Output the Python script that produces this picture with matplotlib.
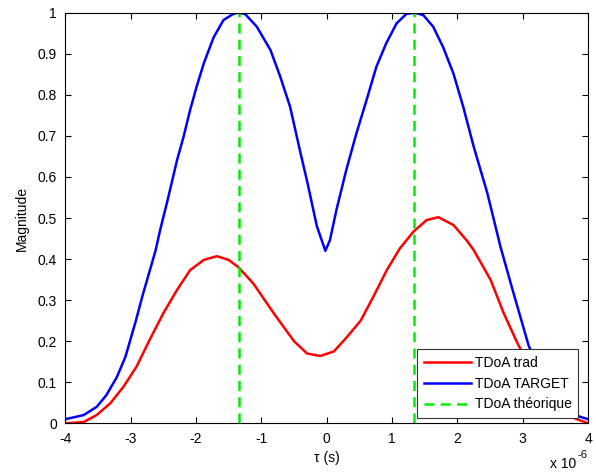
import matplotlib.pyplot as plt

plt.rcParams['font.family'] = ['Liberation Sans', 'DejaVu Sans']
plt.rcParams['axes.unicode_minus'] = False

# delay in microseconds (axis shows x 10^-6)
tau_trad = [-4.0, -3.72, -3.52, -3.31, -3.11, -2.91, -2.71, -2.50, -2.29, -2.09,
            -1.88, -1.68, -1.50, -1.35, -1.12, -0.81, -0.5, -0.3, -0.1, 0.11,
            0.31, 0.52, 0.72, 0.92, 1.12, 1.33, 1.53, 1.71, 1.94, 2.14,
            2.25, 2.51, 2.71, 2.92, 3.2, 3.5, 3.75, 4.0]
mag_trad = [0.0, 0.003, 0.02, 0.049, 0.089, 0.138, 0.203, 0.268, 0.325, 0.373,
            0.398, 0.407, 0.398, 0.38, 0.34, 0.268, 0.20, 0.17, 0.164, 0.175,
            0.21, 0.25, 0.31, 0.373, 0.426, 0.467, 0.495, 0.502, 0.483, 0.446,
            0.422, 0.349, 0.268, 0.195, 0.11, 0.05, 0.015, 0.0]

tau_target = [-4.0, -3.72, -3.52, -3.37, -3.21, -3.08, -2.92, -2.82, -2.72, -2.62,
              -2.55, -2.44, -2.29, -2.19, -2.09, -1.99, -1.88, -1.73, -1.58, -1.43,
              -1.36, -1.25, -1.07, -0.86, -0.71, -0.56, -0.40, -0.3, -0.15, -0.02,
              0.05, 0.15, 0.30, 0.455, 0.61, 0.76, 0.91, 1.07, 1.22, 1.35,
              1.48, 1.63, 1.78, 1.94, 2.09, 2.25, 2.46, 2.66, 2.86, 3.09,
              3.3, 3.55, 3.8, 4.0]
mag_target = [0.01, 0.02, 0.04, 0.069, 0.113, 0.162, 0.25, 0.31, 0.365, 0.42,
              0.47, 0.54, 0.641, 0.698, 0.763, 0.82, 0.877, 0.94, 0.982, 0.997,
              1.0, 0.997, 0.966, 0.909, 0.844, 0.771, 0.658, 0.59, 0.48, 0.42,
              0.446, 0.52, 0.617, 0.706, 0.787, 0.868, 0.925, 0.974, 0.997, 1.0,
              0.994, 0.966, 0.917, 0.852, 0.771, 0.674, 0.56, 0.43, 0.317, 0.19,
              0.11, 0.05, 0.02, 0.01]

tdoa_theo = [-1.34, 1.34]

fig = plt.figure(figsize=(5.96, 4.76), dpi=100)
ax = fig.add_axes([0.1096, 0.1107, 0.8770, 0.8626])

ax.plot(tau_trad, mag_trad, color='red', lw=1.8, label='TDoA trad')
ax.plot(tau_target, mag_target, color='blue', lw=1.8, label='TDoA TARGET')
for i, t in enumerate(tdoa_theo):
    ax.plot([t, t], [0, 1], color='#00ee00', lw=1.8, ls=(0, (4, 2.5)),
            label='TDoA théorique' if i == 0 else None)

ax.set_xlim(-4, 4)
ax.set_ylim(0, 1)
ax.set_xticks(range(-4, 5))
ax.set_yticks([i / 10 for i in range(11)])
ax.set_yticklabels(['0'] + ['0.%d' % i for i in range(1, 10)] + ['1'])
ax.tick_params(direction='in', labelsize=10, length=4, top=True, right=True,
               width=0.8)
ax.tick_params(axis='x', pad=6)
ax.tick_params(axis='y', pad=6)
for s in ax.spines.values():
    s.set_linewidth(0.8)
ax.set_xlabel('τ (s)', fontsize=10, labelpad=4)
ax.set_ylabel('Magnitude', fontsize=10, labelpad=6)

fig.text(0.967, 0.011, 'x 10', ha='right', va='bottom', fontsize=10)
fig.text(0.969, 0.034, '-6', ha='left', va='bottom', fontsize=8)

leg = ax.legend(loc='lower right', bbox_to_anchor=(0.981, 0.0136), borderaxespad=0,
                fontsize=10, fancybox=False, framealpha=1, edgecolor='#333333',
                handlelength=3.4, handletextpad=0.3, labelspacing=0.5,
                borderpad=0.45)
leg.get_frame().set_linewidth(0.8)

fig.savefig('out.png', dpi=100)
